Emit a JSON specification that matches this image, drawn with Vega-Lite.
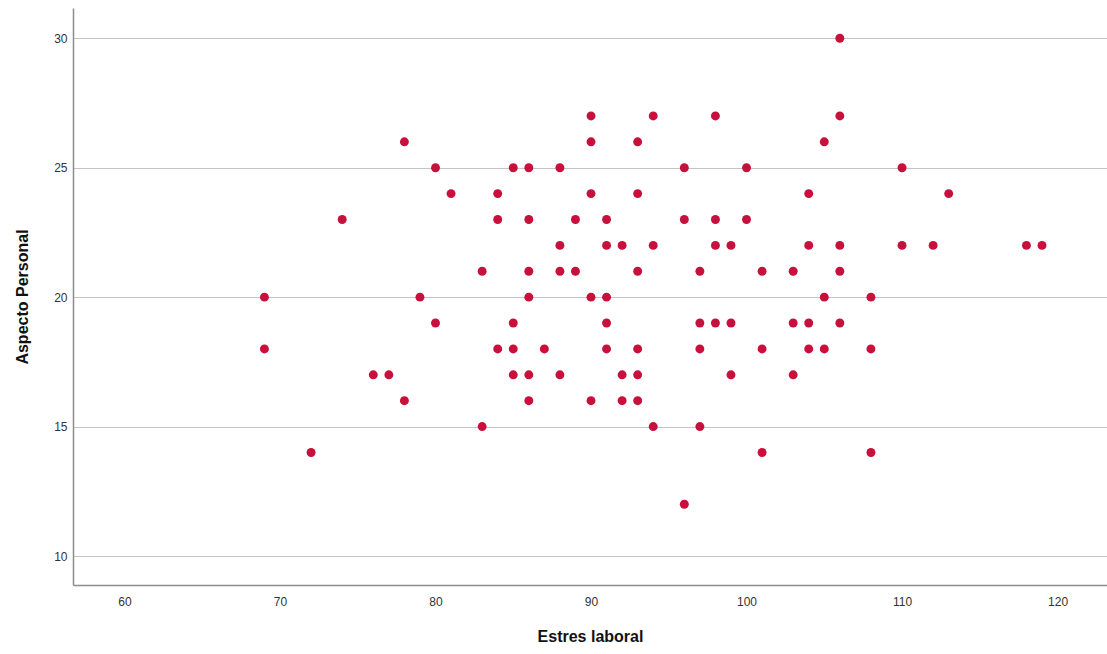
{
  "$schema": "https://vega.github.io/schema/vega-lite/v6.json",
  "autosize": "none",
  "width": 1034,
  "height": 577,
  "padding": {"left": 73, "top": 8, "right": 0, "bottom": 69},
  "background": "white",
  "config": {
    "view": {"stroke": null},
    "axis": {
      "labelFont": "Liberation Sans Narrow, Liberation Sans, Arial",
      "labelFontSize": 12,
      "labelColor": "#333333",
      "titleFont": "Liberation Sans Narrow, Liberation Sans, Arial",
      "titleFontSize": 16,
      "titleFontWeight": "bold",
      "titleColor": "#111111",
      "domainColor": "#8c8c8c",
      "domainWidth": 1.5,
      "ticks": false,
      "gridColor": "#c4c4c4",
      "gridWidth": 1
    }
  },
  "data": {
    "values": [
      {"estres": 69, "aspecto": 20}, {"estres": 69, "aspecto": 18},
      {"estres": 72, "aspecto": 14},
      {"estres": 74, "aspecto": 23},
      {"estres": 76, "aspecto": 17}, {"estres": 77, "aspecto": 17},
      {"estres": 78, "aspecto": 26}, {"estres": 78, "aspecto": 16},
      {"estres": 79, "aspecto": 20},
      {"estres": 80, "aspecto": 25}, {"estres": 80, "aspecto": 19},
      {"estres": 81, "aspecto": 24},
      {"estres": 83, "aspecto": 21}, {"estres": 83, "aspecto": 15},
      {"estres": 84, "aspecto": 24}, {"estres": 84, "aspecto": 23}, {"estres": 84, "aspecto": 18},
      {"estres": 85, "aspecto": 25}, {"estres": 85, "aspecto": 19}, {"estres": 85, "aspecto": 18}, {"estres": 85, "aspecto": 17},
      {"estres": 86, "aspecto": 25}, {"estres": 86, "aspecto": 23}, {"estres": 86, "aspecto": 21}, {"estres": 86, "aspecto": 20}, {"estres": 86, "aspecto": 17}, {"estres": 86, "aspecto": 16},
      {"estres": 87, "aspecto": 18},
      {"estres": 88, "aspecto": 25}, {"estres": 88, "aspecto": 22}, {"estres": 88, "aspecto": 21}, {"estres": 88, "aspecto": 17},
      {"estres": 89, "aspecto": 23}, {"estres": 89, "aspecto": 21},
      {"estres": 90, "aspecto": 27}, {"estres": 90, "aspecto": 26}, {"estres": 90, "aspecto": 24}, {"estres": 90, "aspecto": 20}, {"estres": 90, "aspecto": 16},
      {"estres": 91, "aspecto": 23}, {"estres": 91, "aspecto": 22}, {"estres": 91, "aspecto": 20}, {"estres": 91, "aspecto": 19}, {"estres": 91, "aspecto": 18},
      {"estres": 92, "aspecto": 22}, {"estres": 92, "aspecto": 17}, {"estres": 92, "aspecto": 16},
      {"estres": 93, "aspecto": 26}, {"estres": 93, "aspecto": 24}, {"estres": 93, "aspecto": 21}, {"estres": 93, "aspecto": 18}, {"estres": 93, "aspecto": 17}, {"estres": 93, "aspecto": 16},
      {"estres": 94, "aspecto": 27}, {"estres": 94, "aspecto": 22}, {"estres": 94, "aspecto": 15},
      {"estres": 96, "aspecto": 25}, {"estres": 96, "aspecto": 23}, {"estres": 96, "aspecto": 12},
      {"estres": 97, "aspecto": 21}, {"estres": 97, "aspecto": 19}, {"estres": 97, "aspecto": 18}, {"estres": 97, "aspecto": 15},
      {"estres": 98, "aspecto": 27}, {"estres": 98, "aspecto": 23}, {"estres": 98, "aspecto": 22}, {"estres": 98, "aspecto": 19},
      {"estres": 99, "aspecto": 22}, {"estres": 99, "aspecto": 19}, {"estres": 99, "aspecto": 17},
      {"estres": 100, "aspecto": 25}, {"estres": 100, "aspecto": 23},
      {"estres": 101, "aspecto": 21}, {"estres": 101, "aspecto": 18}, {"estres": 101, "aspecto": 14},
      {"estres": 103, "aspecto": 21}, {"estres": 103, "aspecto": 19}, {"estres": 103, "aspecto": 17},
      {"estres": 104, "aspecto": 24}, {"estres": 104, "aspecto": 22}, {"estres": 104, "aspecto": 19}, {"estres": 104, "aspecto": 18},
      {"estres": 105, "aspecto": 26}, {"estres": 105, "aspecto": 20}, {"estres": 105, "aspecto": 18},
      {"estres": 106, "aspecto": 30}, {"estres": 106, "aspecto": 27}, {"estres": 106, "aspecto": 22}, {"estres": 106, "aspecto": 21}, {"estres": 106, "aspecto": 19},
      {"estres": 108, "aspecto": 20}, {"estres": 108, "aspecto": 18}, {"estres": 108, "aspecto": 14},
      {"estres": 110, "aspecto": 25}, {"estres": 110, "aspecto": 22},
      {"estres": 112, "aspecto": 22},
      {"estres": 113, "aspecto": 24},
      {"estres": 118, "aspecto": 22}, {"estres": 119, "aspecto": 22}
    ]
  },
  "mark": {"type": "circle", "size": 80, "color": "#c8103c", "opacity": 1},
  "encoding": {
    "x": {
      "field": "estres",
      "type": "quantitative",
      "title": "Estres laboral",
      "scale": {"domain": [56.69, 123.18], "nice": false, "zero": false},
      "axis": {"values": [60, 70, 80, 90, 100, 110, 120], "grid": false, "labelPadding": 11, "titlePadding": 21}
    },
    "y": {
      "field": "aspecto",
      "type": "quantitative",
      "title": "Aspecto Personal",
      "scale": {"domain": [8.88, 31.17], "nice": false, "zero": false},
      "axis": {"values": [10, 15, 20, 25, 30], "grid": true, "labelPadding": 6, "titlePadding": 23}
    }
  }
}
